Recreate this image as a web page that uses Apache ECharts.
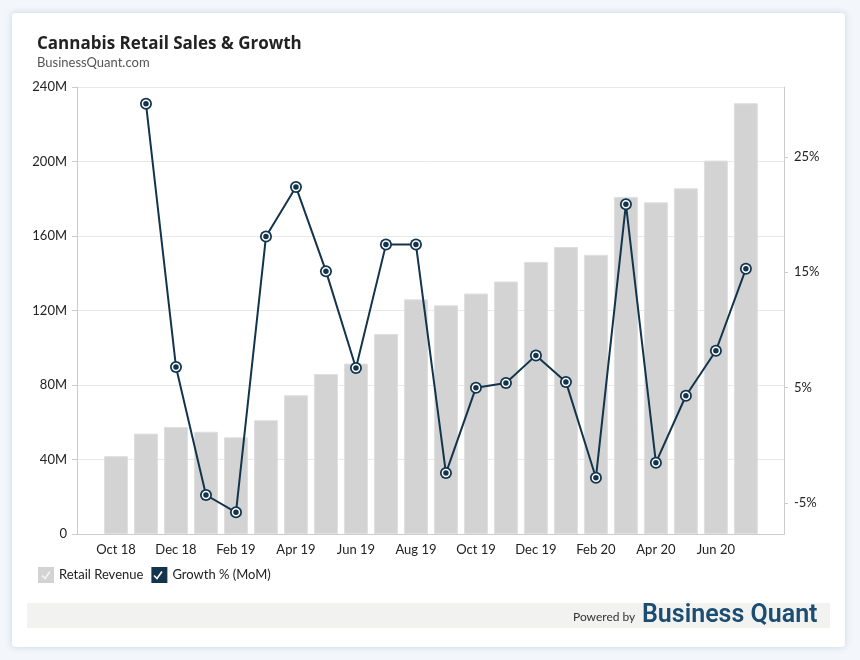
<!DOCTYPE html>
<html>
<head>
<meta charset="utf-8">
<title>Cannabis Retail Sales & Growth</title>
<script src="https://cdn.jsdelivr.net/npm/echarts@6/dist/echarts.min.js"></script>
<style>
  html, body { margin: 0; padding: 0; background: #f3f6fa; }
  #card {
    position: absolute; left: 12px; top: 13px; width: 833px; height: 634px;
    background: #fff; border-radius: 4px;
    box-shadow: 0 0 6px rgba(160, 185, 215, 0.55);
  }
  #main { position: absolute; left: 0; top: 0; width: 860px; height: 660px; }
</style>
</head>
<body>
<div id="card"></div>
<div id="main"></div>
<script>
// months on the x axis
const months = ['Oct 18', 'Nov 18', 'Dec 18', 'Jan 19', 'Feb 19', 'Mar 19', 'Apr 19',
  'May 19', 'Jun 19', 'Jul 19', 'Aug 19', 'Sep 19', 'Oct 19', 'Nov 19', 'Dec 19',
  'Jan 20', 'Feb 20', 'Mar 20', 'Apr 20', 'May 20', 'Jun 20', 'Jul 20'];

// retail revenue, millions of dollars
const revenue = [41.8, 53.9, 57.4, 54.9, 51.9, 61.1, 74.5, 85.9, 91.5, 107.4, 126.0,
  122.8, 129.1, 135.6, 146.1, 154.1, 149.9, 181.0, 178.1, 185.6, 200.5, 231.3];

// month over month growth, percent (no value for the first month)
const growth = [null, 29.6, 6.8, -4.3, -5.8, 18.1, 22.4, 15.1, 6.7, 17.4, 17.4,
  -2.4, 5.0, 5.4, 7.8, 5.5, -2.8, 20.9, -1.5, 4.3, 8.2, 15.3];

const monthLabelAt = [0, 2, 4, 6, 8, 10, 12, 14, 16, 18, 20];
const leftTicks = [0, 40, 80, 120, 160, 200, 240];
const rightTicks = [-5, 5, 15, 25];

const font = 'Lato, "Open Sans", sans-serif';
const navy = '#12344d';

const barData = revenue.map((v, i) => [i, v]);
const lineData = growth.map((v, i) => [i, v == null ? '-' : v]);

// little check marks drawn over the legend boxes
function check(x, color) {
  return {
    type: 'polyline',
    shape: { points: [[x + 4, 575.5], [x + 7, 578.5], [x + 12, 571.5]] },
    style: { stroke: color, lineWidth: 1.6, fill: null },
    z: 100
  };
}

const chart = echarts.init(document.getElementById('main'));

chart.setOption({
  animation: false,
  textStyle: { fontFamily: font },
  title: {
    text: 'Cannabis Retail Sales & Growth',
    subtext: 'BusinessQuant.com',
    left: 37,
    top: 36,
    padding: 0,
    itemGap: 3,
    textStyle: { fontFamily: '"Open Sans", sans-serif', fontSize: 17, fontWeight: 'bold', color: '#222' },
    subtextStyle: { fontFamily: font, fontSize: 13, color: '#555' }
  },
  legend: {
    left: 38,
    top: 567,
    padding: 0,
    itemWidth: 16,
    itemHeight: 16,
    itemGap: 8,
    selectedMode: false,
    textStyle: { fontFamily: font, fontSize: 13, color: '#222' },
    itemStyle: { borderWidth: 0 },
    data: [
      { name: 'Retail Revenue', icon: 'rect', itemStyle: { color: '#d3d3d3' } },
      { name: 'Growth % (MoM)', icon: 'rect', itemStyle: { color: navy } }
    ]
  },
  grid: { left: 77, right: 76, top: 87, bottom: 126 },
  xAxis: {
    type: 'value',
    min: -1.3,
    max: 22.27,
    splitLine: { show: false },
    axisTick: { show: false },
    axisLine: { onZero: false, lineStyle: { color: '#cccccc' } },
    axisLabel: {
      customValues: monthLabelAt,
      formatter: v => months[v],
      color: '#222',
      fontSize: 13,
      margin: 9
    }
  },
  yAxis: [
    {
      type: 'value',
      min: 0,
      max: 240,
      interval: 40,
      axisLine: { show: true, onZero: false, lineStyle: { color: '#cccccc' } },
      axisTick: { show: true, length: 5, customValues: leftTicks, lineStyle: { color: '#cccccc' } },
      splitLine: { lineStyle: { color: '#e8e8e8' } },
      axisLabel: {
        customValues: leftTicks,
        formatter: v => (v === 0 ? '0' : v + 'M'),
        color: '#222',
        fontSize: 13,
        margin: 10
      }
    },
    {
      type: 'value',
      min: -7.68,
      max: 31.06,
      position: 'right',
      axisLine: { show: true, onZero: false, lineStyle: { color: '#cccccc' } },
      axisTick: { show: true, length: 4, customValues: rightTicks, lineStyle: { color: '#cccccc' } },
      splitLine: { show: false },
      axisLabel: {
        customValues: rightTicks,
        formatter: v => v + '%',
        color: '#222',
        fontSize: 13,
        margin: 10
      }
    }
  ],
  series: [
    {
      name: 'Retail Revenue',
      type: 'bar',
      barWidth: 24,
      data: barData,
      itemStyle: { color: '#d3d3d3', borderColor: '#e0e0e0', borderWidth: 1 },
      emphasis: { disabled: true }
    },
    {
      name: 'Growth % (MoM)',
      type: 'line',
      yAxisIndex: 1,
      data: lineData,
      symbol: 'circle',
      symbolSize: 12,
      lineStyle: { color: navy, width: 2 },
      itemStyle: { color: navy },
      emphasis: { disabled: true },
      z: 3
    },
    {
      // inner ring of the markers
      type: 'line',
      yAxisIndex: 1,
      data: lineData,
      symbol: 'circle',
      symbolSize: 7,
      lineStyle: { width: 0, opacity: 0 },
      itemStyle: { color: navy, borderColor: '#ffffff', borderWidth: 1.5 },
      emphasis: { disabled: true },
      z: 4
    }
  ],
  graphic: [
    {
      type: 'rect',
      shape: { x: 27, y: 603, width: 803, height: 25 },
      style: { fill: '#f2f2f0' }
    },
    {
      type: 'text',
      x: 573,
      y: 617,
      style: {
        text: 'Powered by',
        font: '12px ' + font,
        fill: '#333',
        verticalAlign: 'middle'
      }
    },
    {
      type: 'text',
      x: 642,
      y: 616,
      style: {
        text: 'Business Quant',
        font: '600 25px Roboto, sans-serif',
        fill: '#1b4d73',
        verticalAlign: 'middle'
      }
    },
    check(38, '#f4f4f4'),
    check(150, '#ffffff')
  ]
});
</script>
</body>
</html>
